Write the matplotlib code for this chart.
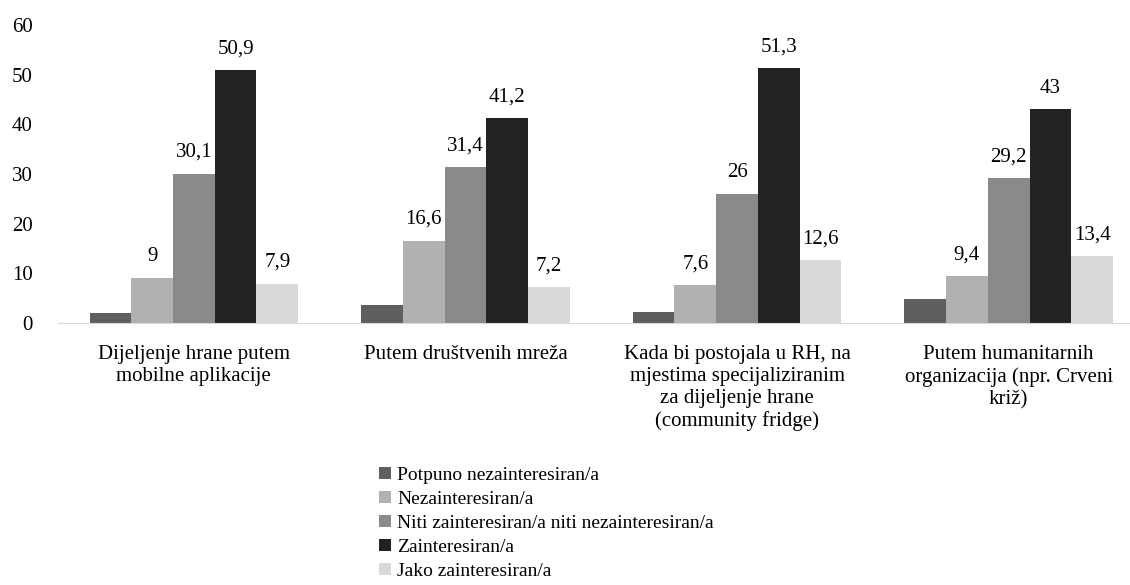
import numpy as np
import matplotlib
matplotlib.use("Agg")
import matplotlib.pyplot as plt

plt.rcParams['font.family'] = 'serif'
plt.rcParams['font.serif'] = ['Liberation Serif', 'DejaVu Serif']

kategorije = ["Dijeljenje hrane putem\nmobilne aplikacije",
              "Putem društvenih mreža",
              "Kada bi postojala u RH, na\nmjestima specijaliziranim\nza dijeljenje hrane\n(community fridge)",
              "Putem humanitarnih\norganizacija (npr. Crveni\nkriž)"]
serije = ["Potpuno nezainteresiran/a", "Nezainteresiran/a",
          "Niti zainteresiran/a niti nezainteresiran/a", "Zainteresiran/a",
          "Jako zainteresiran/a"]
potpuno_nezaint = [2.0, 3.6, 2.3, 4.8]
nezaint = [9, 16.6, 7.6, 9.4]
niti = [30.1, 31.4, 26, 29.2]
zaint = [50.9, 41.2, 51.3, 43]
jako_zaint = [7.9, 7.2, 12.6, 13.4]
vrijednosti = [potpuno_nezaint, nezaint, niti, zaint, jako_zaint]
prikazi_oznake = [False, True, True, True, True]
boje = ["#5f5f5f", "#b1b1b1", "#8a8a8a", "#222222", "#d9d9d9"]

fig = plt.figure(figsize=(11.3, 5.85), dpi=100)
ax = fig.add_axes([58/1130, (585-323)/585, (1130-58)/1130, 298/585])

x = np.arange(len(kategorije))
w = 0.768/5
for i in range(5):
    pos = x + (i - 2) * w
    bars = ax.bar(pos, vrijednosti[i], w, color=boje[i], label=serije[i])
    if prikazi_oznake[i]:
        for p, v in zip(pos, vrijednosti[i]):
            ax.text(p, v + 2.4, f"{v:g}".replace(".", ","), ha="center",
                    va="bottom", fontsize=15)

ax.set_ylim(0, 60)
ax.set_xlim(-0.5, -0.5 + (1130 - 56.5) / 272)
ax.set_yticks(range(0, 61, 10))
ax.set_xticks(x)
ax.set_xticklabels(kategorije, fontsize=15, linespacing=1.2, va="top")
ax.tick_params(axis="y", length=0, pad=18, labelsize=15)
ax.tick_params(axis="x", length=0, pad=16)
for s in ["top", "right", "left"]:
    ax.spines[s].set_visible(False)
ax.spines["bottom"].set_color("#d9d9d9")

fig.legend(loc="upper left", bbox_to_anchor=(379/1130, 1 - 467/585),
           frameon=False, fontsize=14, handlelength=0.6, handleheight=0.6,
           handletextpad=0.35, labelspacing=0.36, borderpad=0, borderaxespad=0)

fig.savefig("out.png", dpi=100)
